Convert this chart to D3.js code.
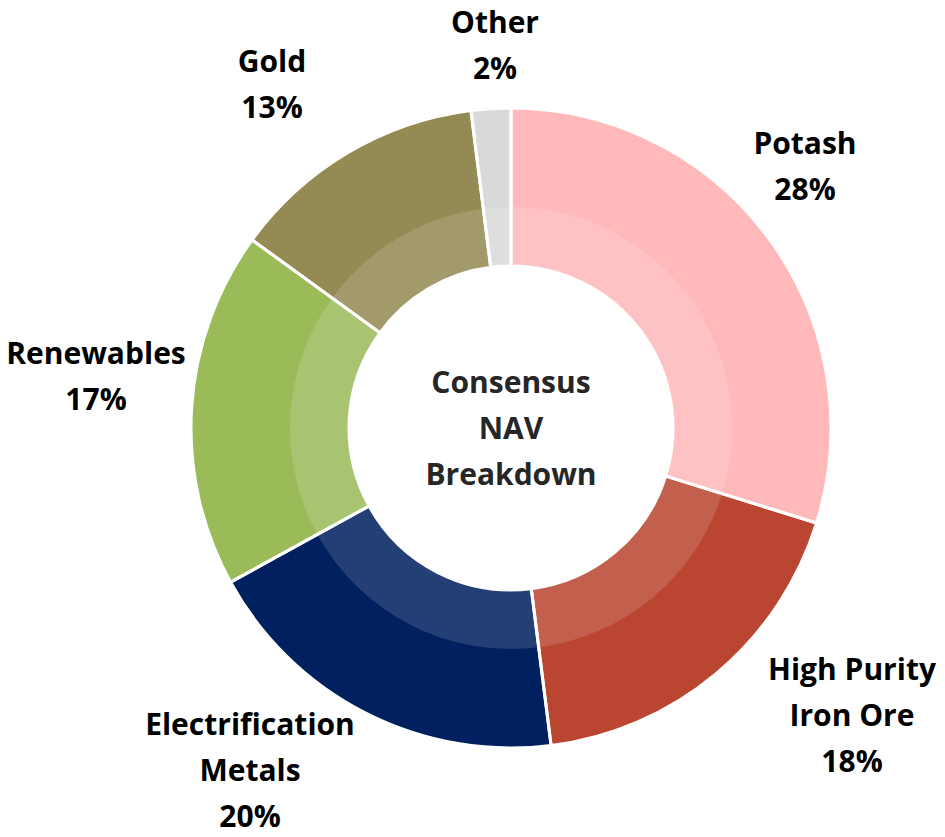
<!DOCTYPE html>
<html>
  <meta charset="utf-8" />
  <script src="https://d3js.org/d3.v7.min.js"></script>
  <style>
    body { margin: 0; background: #fff; }
    text { font-family: "Open Sans", "Noto Sans", sans-serif; font-weight: 700; }
  </style>
  <body>
    <svg id="chart" width="945" height="837"></svg>
    <script>
      // Segment names, slice sizes and the printed labels
      var segments = ["Potash", "High Purity Iron Ore", "Electrification Metals", "Renewables", "Gold", "Other"]
      var values = [29.8, 18.2, 19, 18, 13, 2]
      var pctLabels = ["28%", "18%", "20%", "17%", "13%", "2%"]
      var colors = ["#ffb9bb", "#ba4530", "#00205f", "#9bbb59", "#948a54", "#d9d9d9"]
      var centerTitle = ["Consensus", "NAV", "Breakdown"]

      // where each label block sits (first-line baseline)
      var labelLines = [["Potash"], ["High Purity", "Iron Ore"], ["Electrification", "Metals"], ["Renewables"], ["Gold"], ["Other"]]
      var labelPos = [[805, 154], [852, 680], [250, 735], [96, 364], [272, 72], [495, 33]]

      var svg = d3.select("svg"),
        cx = 511,
        cy = 428,
        rOuter = 320,
        rInner = 162,
        rBand = 221,
        lineH = 46

      var g = svg.append("g").attr("transform", "translate(" + cx + "," + cy + ")")

      var pie = d3.pie().sort(null).value(function(d) { return d })
      var arcs = pie(values)

      var arc = d3.arc().innerRadius(rInner).outerRadius(rOuter)
      var band = d3.arc().innerRadius(rInner).outerRadius(rBand)

      // main slices
      g.selectAll("path.slice")
        .data(arcs)
        .enter()
        .append("path")
        .attr("class", "slice")
        .attr("d", arc)
        .attr("fill", function(d, i) { return colors[i] })

      // lighter inner band
      g.selectAll("path.band")
        .data(arcs)
        .enter()
        .append("path")
        .attr("class", "band")
        .attr("d", band)
        .attr("fill", "#fff")
        .attr("fill-opacity", 0.14)

      // white separators
      g.selectAll("path.edge")
        .data(arcs)
        .enter()
        .append("path")
        .attr("class", "edge")
        .attr("d", arc)
        .attr("fill", "none")
        .attr("stroke", "#fff")
        .attr("stroke-width", 3)

      // outside labels
      arcs.forEach(function(d, i) {
        var lines = labelLines[i].concat([pctLabels[i]])
        var t = svg.append("text")
          .attr("text-anchor", "middle")
          .attr("font-size", 30)
          .attr("fill", "#000")
        lines.forEach(function(s, k) {
          t.append("tspan")
            .attr("x", labelPos[i][0])
            .attr("y", labelPos[i][1] + k * lineH)
            .text(s)
        })
      })

      // centre title
      var ct = svg.append("text")
        .attr("text-anchor", "middle")
        .attr("font-size", 30)
        .attr("fill", "#262626")
      centerTitle.forEach(function(s, k) {
        ct.append("tspan")
          .attr("x", cx)
          .attr("y", 393 + k * lineH)
          .text(s)
      })
    </script>
  </body>
</html>
